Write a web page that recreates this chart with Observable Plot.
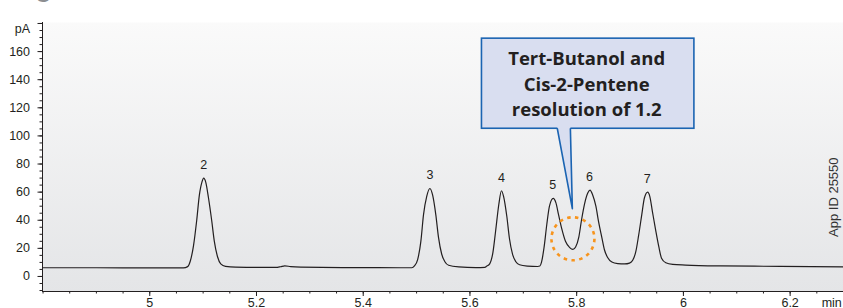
<!DOCTYPE html>
<html><head><meta charset="utf-8">
<script src="https://cdn.jsdelivr.net/npm/d3@7"></script>
<script src="https://cdn.jsdelivr.net/npm/@observablehq/plot@0.6"></script>
<style>
html,body{margin:0;padding:0;background:#fff;}
#chart{width:843px;height:308px;overflow:hidden;}
</style></head><body><div id="chart"></div>
<script>
// Retention time (min) and detector signal (pA)
const times = [4.799, 4.9, 5.0, 5.063,
  5.071, 5.076, 5.082, 5.088, 5.093, 5.098, 5.101, 5.105, 5.110, 5.116, 5.121, 5.127, 5.133, 5.142, 5.161,
  5.198, 5.236, 5.245, 5.253, 5.264, 5.283, 5.376, 5.470,
  5.491, 5.496, 5.502, 5.508, 5.513, 5.519, 5.525, 5.530, 5.536, 5.541, 5.547, 5.553, 5.560, 5.579, 5.611, 5.628,
  5.631, 5.637, 5.643, 5.648, 5.654, 5.659, 5.663, 5.669, 5.674, 5.680, 5.686, 5.693, 5.708, 5.727,
  5.731, 5.734, 5.739, 5.744, 5.749, 5.756, 5.761, 5.766, 5.772, 5.779, 5.787, 5.793, 5.798, 5.804, 5.809, 5.815, 5.821, 5.825, 5.830, 5.836, 5.841, 5.847, 5.852, 5.858, 5.866, 5.877, 5.890,
  5.899, 5.905, 5.911, 5.916, 5.922, 5.927, 5.933, 5.937, 5.942, 5.948, 5.954, 5.959, 5.967, 5.980, 6.004, 6.070, 6.182, 6.300];
const signal = [6.2, 6.2, 6.1, 6.1,
  7.0, 11, 22, 40, 58, 67.5, 70, 67, 56, 40, 25, 14, 9, 7.2, 6.6,
  6.5, 6.4, 6.9, 7.6, 7.0, 6.6, 6.3, 6.2,
  6.2, 7.5, 12, 25, 44, 57, 62.6, 58, 44, 28, 16, 10.5, 8, 6.8, 6.3, 6.5,
  7.2, 9, 17, 32, 51, 61, 57, 43, 27, 15.5, 10.5, 8.3, 7.4, 7.1,
  7.4, 10, 21, 37, 50, 55.5, 52.5, 44, 34, 25, 20.5, 19.3, 21, 28, 40, 52, 59.5, 61.5, 58, 50, 39, 28, 19, 13.5, 10.3, 9.2, 8.9,
  9.5, 11.5, 18, 29, 44, 56, 60, 57, 46, 33, 21, 13, 9.8, 8.6, 8.1, 7.5, 7.2, 6.8];

const peakNames = ["2", "3", "4", "5", "6", "7"];
const peakTimes = [5.101, 5.525, 5.659, 5.755, 5.824, 5.932];
const peakHeights = [70, 62.6, 61, 55.5, 61.5, 60];

const xTicks = [5, 5.2, 5.4, 5.6, 5.8, 6, 6.2];
const yTicks = [0, 20, 40, 60, 80, 100, 120, 140, 160];
const xUnit = "min";
const yUnit = "pA";
const calloutLines = ["Tert-Butanol and", "Cis-2-Pentene", "resolution of 1.2"];
const appId = "App ID 25550";
const titleFragment = "g";

// annotation anchors in data units (min, pA)
const xDomain = [4.799, 6.3];
const yDomain = [-10.7, 180.7];
const yTop = 180;
const resolutionCircle = {t: 5.793, v: 26.8};
const calloutBox = {x1: 5.6225, x2: 6.0206, y1: 105.1, y2: 169.2};
const calloutTip = {t: 5.7919, v: 48.2};
const calloutBase = {left: 5.7638, right: 5.7882};
const calloutText = {t: 5.8187, v: 138.2};
const appIdPos = {t: 6.2815, v: 56.4};
const xUnitPos = 6.278;

const trace = times.map((t, i) => ({t, v: signal[i]}));
const peaks = peakNames.map((name, i) => ({name, t: peakTimes[i], h: peakHeights[i]}));
const xMinor = d3.range(0, 31).map(i => +(4.8 + i * 0.05).toFixed(2));
const yMinor = d3.range(-10, 181, 5);

const boxFill = "#d9def0", boxStroke = "#1b64b2", ink = "#231f20";
const pointerFill = [
  {t: calloutBase.left, v: calloutBox.y1 + 1.2},
  {t: calloutBase.left, v: calloutBox.y1},
  {t: calloutTip.t, v: calloutTip.v},
  {t: calloutBase.right, v: calloutBox.y1},
  {t: calloutBase.right, v: calloutBox.y1 + 1.2}
];
const pointerEdge = [
  {t: calloutBase.left, v: calloutBox.y1},
  {t: calloutTip.t, v: calloutTip.v},
  {t: calloutBase.right, v: calloutBox.y1}
];

const chart = Plot.plot({
  width: 843, height: 308,
  marginLeft: 42, marginRight: 0, marginTop: 22, marginBottom: 17,
  x: {domain: xDomain},
  y: {domain: yDomain},
  style: {fontFamily: "'Liberation Sans', Arial, sans-serif", fontSize: "12.5px", color: ink, background: "white", overflow: "visible"},
  marks: [
    Plot.frame({fill: "url(#plotBg)", stroke: "none"}),
    Plot.axisY(yMinor, {tickSize: 2.5, fill: "none", label: null, stroke: ink}),
    Plot.axisY(yTicks, {tickSize: 4.5, tickPadding: 8, label: null, stroke: ink, fill: ink, tickFormat: d => String(d)}),
    Plot.axisY([yTop], {tickSize: 4.5, fill: "none", label: null, stroke: ink}),
    Plot.axisX(xMinor, {tickSize: 2.5, fill: "none", label: null, stroke: ink}),
    Plot.axisX(xTicks, {tickSize: 5, tickPadding: 2, label: null, stroke: ink, fill: ink, tickFormat: d => String(+d.toFixed(1))}),
    Plot.ruleX([xDomain[0]], {stroke: ink, strokeWidth: 1}),
    Plot.ruleY([yDomain[0]], {stroke: ink, strokeWidth: 1}),
    Plot.text([yUnit], {x: xDomain[0], y: yDomain[1], dx: -12.5, dy: 6, textAnchor: "end", fill: ink}),
    Plot.text([xUnit], {x: xUnitPos, y: yDomain[0], dy: 7, lineAnchor: "top", fill: ink}),
    Plot.line(trace, {x: "t", y: "v", curve: "monotone-x", stroke: ink, strokeWidth: 1.2}),
    Plot.text(peaks, {x: "t", y: "h", text: "name", dy: -13, fill: ink}),
    Plot.dot([resolutionCircle], {x: "t", y: "v", r: 21.5, fill: "none", stroke: "#f7941d", strokeWidth: 2.6, strokeDasharray: "3.5 4.4"}),
    Plot.rect([calloutBox], {x1: "x1", x2: "x2", y1: "y1", y2: "y2", fill: boxFill, stroke: boxStroke, strokeWidth: 1.6}),
    Plot.line(pointerFill, {x: "t", y: "v", fill: boxFill, stroke: "none", curve: "linear"}),
    Plot.line(pointerEdge, {x: "t", y: "v", stroke: boxStroke, strokeWidth: 1.6, curve: "linear"}),
    Plot.text([calloutLines.join("\n")], {x: calloutText.t, y: calloutText.v, fontSize: 18.5, fontWeight: 700, fontFamily: "'Open Sans', Lato, sans-serif", lineHeight: 1.4, fill: ink}),
    Plot.text([appId], {x: appIdPos.t, y: appIdPos.v, rotate: -90, fontSize: 13, fill: "#333"}),
    Plot.text([titleFragment], {frameAnchor: "top-left", dx: -8, dy: -28, textAnchor: "start", lineAnchor: "bottom", fontSize: 32, fill: "#8c8e91"})
  ]
});

const defs = document.createElementNS("http://www.w3.org/2000/svg", "defs");
defs.innerHTML = '<linearGradient id="plotBg" x1="0" y1="0" x2="0" y2="1"><stop offset="0" stop-color="#fafafa"/><stop offset="1" stop-color="#e4e5e7"/></linearGradient>';
chart.insertBefore(defs, chart.firstChild);
document.getElementById("chart").appendChild(chart);
</script>
</body></html>
